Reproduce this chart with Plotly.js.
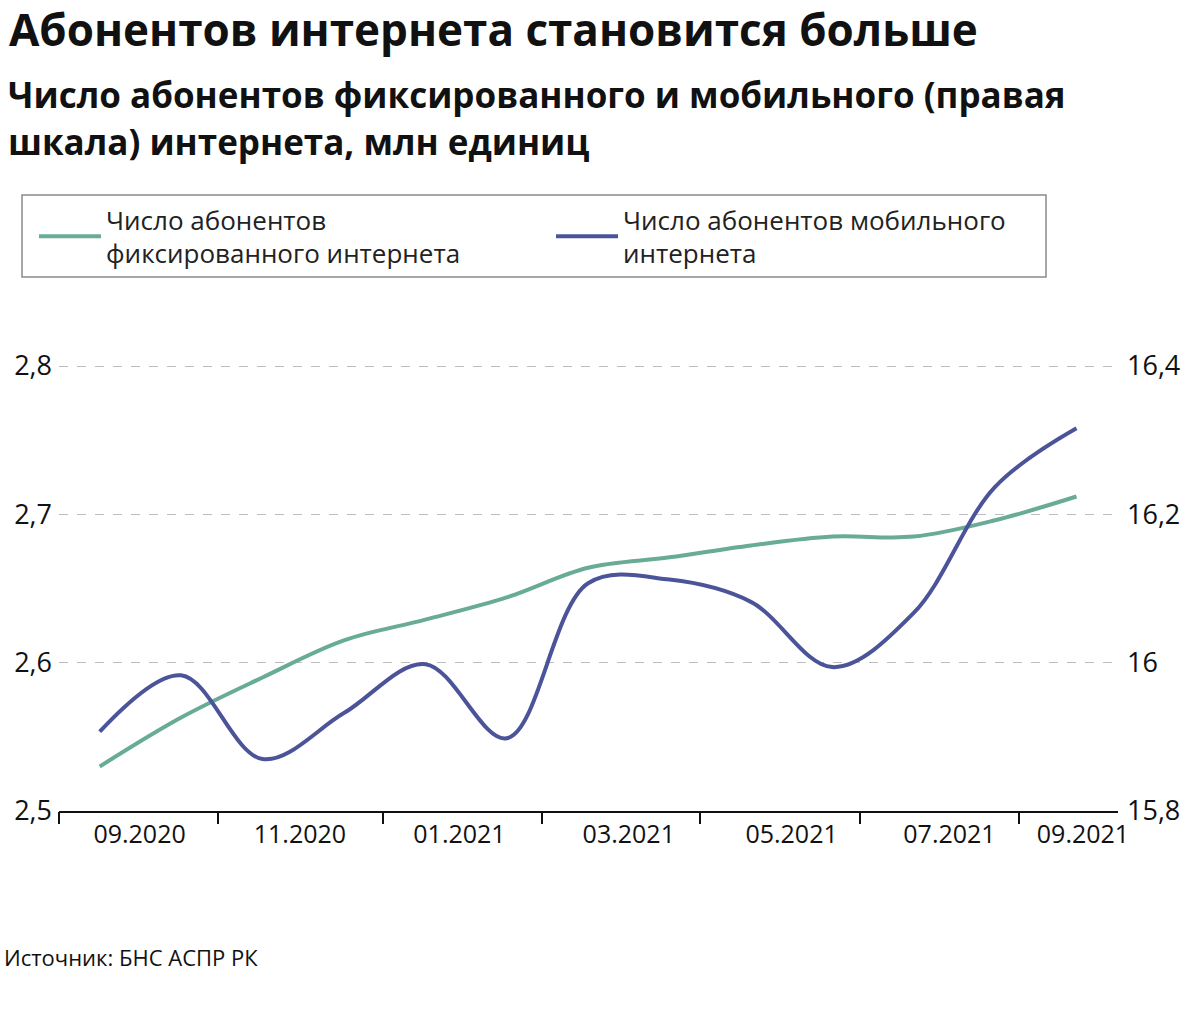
<!DOCTYPE html>
<html><head><meta charset="utf-8">
<script src="https://cdn.plot.ly/plotly-3.0.1.min.js"></script>
<style>body{margin:0;background:#fff}#c{width:1200px;height:1018px}</style>
</head><body><div id="c"></div>
<script>
// Months 09.2020 .. 09.2021 (index 0..12)
const months = [0,1,2,3,4,5,6,7,8,9,10,11,12];
const fixedSubs = [2.530,2.563,2.590,2.615,2.629,2.644,2.664,2.671,2.679,2.685,2.685,2.696,2.712];
const mobileSubs = [15.907,15.983,15.870,15.932,15.998,15.898,16.107,16.112,16.082,15.994,16.067,16.237,16.316];
const xLabels = ['09.2020','11.2020','01.2021','03.2021','05.2021','07.2021','09.2021'];
const leftTicks = [2.5,2.6,2.7,2.8];
const leftTickText = ['2,5','2,6','2,7','2,8'];
const rightTicks = [15.8,16.0,16.2,16.4];
const rightTickText = ['15,8','16','16,2','16,4'];

const xLabelPos = [0.49,2.46,4.42,6.5,8.5,10.44,12.08];
const xTickPos = [-0.5,1.45,3.48,5.43,7.38,9.34,11.29];
const xRange = [-0.5,12.51];

const FONT = '"Open Sans", Roboto, sans-serif';
const GREEN = '#68ac98';
const BLUE = '#4b5499';

// plot area: value 2.8 at y=366, 2.5 at y=811 ; top padded by 8px so the 2.8 grid line shows
const PAD = 8;
const PT = 366 - PAD, PB = 811, PL = 59, PR = 1118;
const PH = PB - PT, PW = PR - PL;
const py = v => (PB - v) / PH;
const px = v => (v - PL) / PW;
const padL = 0.3 * PAD / 445, padR = 0.6 * PAD / 445;

const traces = [
  {x: months, y: fixedSubs, type:'scatter', mode:'lines', name:'Число абонентов<br>фиксированного интернета',
   line:{color:GREEN, width:4, shape:'spline', smoothing:1}, xaxis:'x', yaxis:'y'},
  {x: months, y: mobileSubs, type:'scatter', mode:'lines', name:'Число абонентов мобильного<br>интернета',
   line:{color:BLUE, width:4, shape:'spline', smoothing:1}, xaxis:'x', yaxis:'y2'},
  {x: [], y: [], xaxis:'x2', yaxis:'y', showlegend:false, hoverinfo:'skip'}
];

const layout = {
  width:1200, height:1018,
  margin:{l:PL, r:1200-PR, t:PT, b:1018-PB},
  paper_bgcolor:'#fff', plot_bgcolor:'#fff',
  font:{family:FONT, color:'#111', size:26},
  showlegend:true,
  legend:{orientation:'h', x:px(34), xanchor:'left', y:py(196), yanchor:'top',
          bgcolor:'rgba(0,0,0,0)', borderwidth:0, entrywidth:440, entrywidthmode:'pixels',
          font:{family:FONT, size:26, color:'#222'}, traceorder:'normal', itemwidth:62},
  xaxis:{range:xRange, tickvals:xLabelPos, ticktext:xLabels, ticks:'', showgrid:false, zeroline:false,
         showline:true, linecolor:'#111', linewidth:2, tickfont:{size:25, family:FONT, color:'#111'}, fixedrange:true},
  xaxis2:{range:xRange, overlaying:'x', side:'bottom', tickvals:xTickPos, ticks:'outside', ticklen:12, tickwidth:2,
          tickcolor:'#111', showticklabels:false, showgrid:false, zeroline:false, showline:false},
  yaxis:{range:[2.5,2.8+padL], tickvals:leftTicks, ticktext:leftTickText, showgrid:true, gridcolor:'#bdbdbd',
         griddash:'dash', gridwidth:1, zeroline:false, showline:false, ticks:'', ticklabelstandoff:6,
         tickfont:{size:27, family:FONT, color:'#111'}},
  yaxis2:{range:[15.8,16.4+padR], tickvals:rightTicks, ticktext:rightTickText, overlaying:'y', side:'right',
          showgrid:false, zeroline:false, showline:false, ticks:'', ticklabelstandoff:8,
          tickfont:{size:27, family:FONT, color:'#111'}},
  shapes:[
    {type:'rect', xref:'paper', yref:'paper', x0:px(22), x1:px(1046), y0:py(195), y1:py(277),
     line:{color:'#8a8a8a', width:1.5}, fillcolor:'rgba(0,0,0,0)'}
  ],
  annotations:[
    {text:'<b>Абонентов интернета становится больше</b>',
     xref:'paper', yref:'paper', x:px(7), xanchor:'left', y:py(29), yanchor:'middle', align:'left',
     showarrow:false, font:{family:FONT, size:44, color:'#111'}},
    {text:'<b>Число абонентов фиксированного и мобильного (правая</b>',
     xref:'paper', yref:'paper', x:px(6), xanchor:'left', y:py(95), yanchor:'middle', align:'left',
     showarrow:false, font:{family:FONT, size:35, color:'#111'}},
    {text:'<b>шкала) интернета, млн единиц</b>',
     xref:'paper', yref:'paper', x:px(6), xanchor:'left', y:py(141), yanchor:'middle', align:'left',
     showarrow:false, font:{family:FONT, size:35, color:'#111'}},
    {text:'Источник: БНС АСПР РК', xref:'paper', yref:'paper', x:px(2), xanchor:'left',
     y:py(957), yanchor:'middle', showarrow:false, font:{family:FONT, size:22, color:'#111'}}
  ]
};
Plotly.newPlot('c', traces, layout, {displayModeBar:false, staticPlot:true});
</script></body></html>
